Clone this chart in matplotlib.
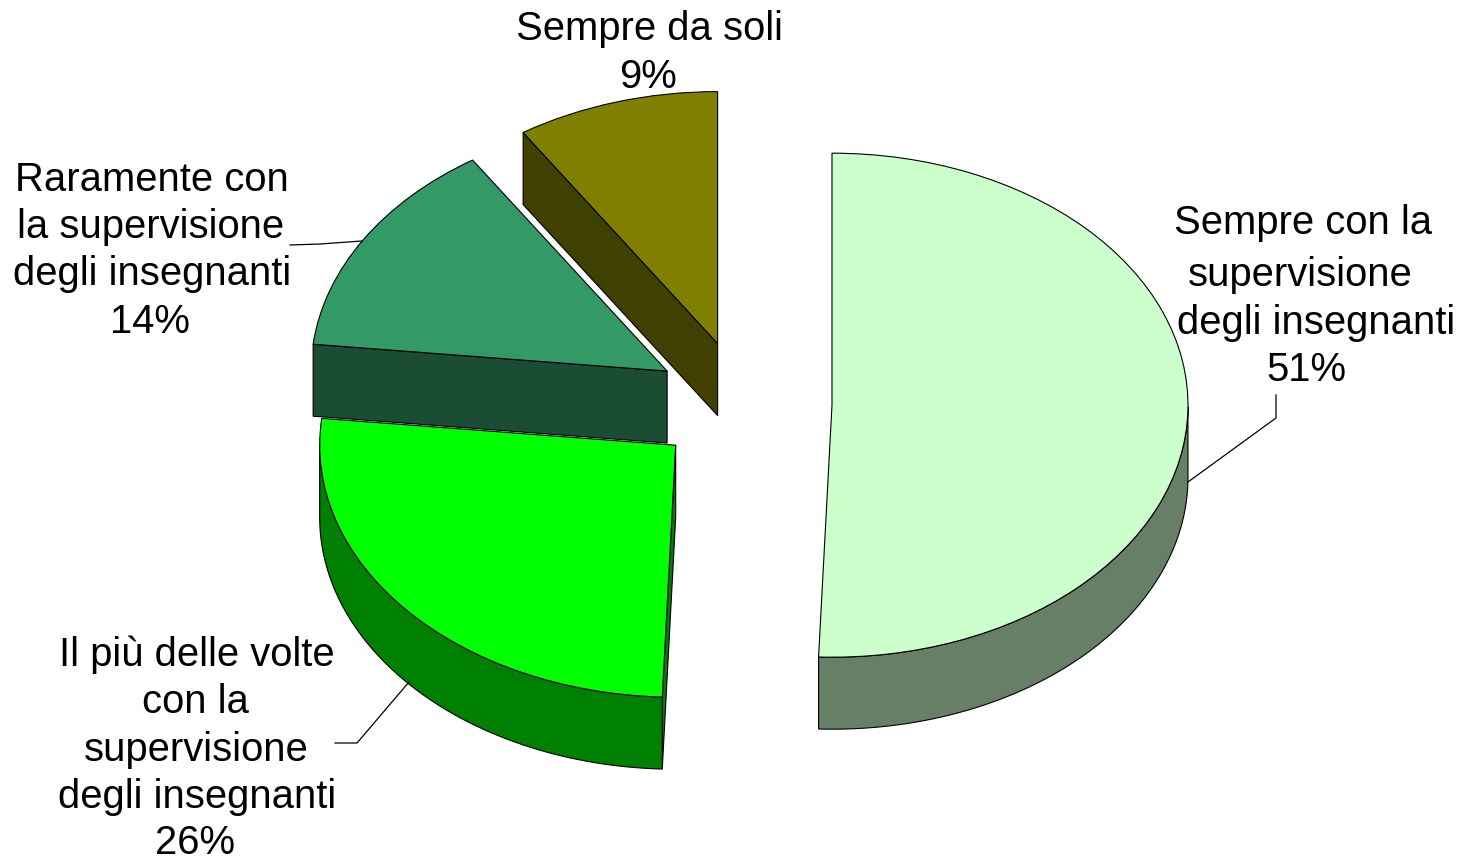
import numpy as np
import matplotlib
matplotlib.use("Agg")
import matplotlib.pyplot as plt
from matplotlib.patches import Wedge, Polygon

plt.rcParams['font.family'] = ['Liberation Sans', 'DejaVu Sans']

# Data
categories = ["Sempre con la\nsupervisione\ndegli insegnanti",
              "Il più delle volte\ncon la\nsupervisione\ndegli insegnanti",
              "Raramente con\nla supervisione\ndegli insegnanti",
              "Sempre da soli"]
values = [50.6, 26.1, 14.1, 9.2]
pct_labels = ["51%", "26%", "14%", "9%"]
top_colors = ["#CCFFCC", "#00FF00", "#339966", "#808000"]
side_colors = ["#667F66", "#008000", "#1A4D33", "#404000"]
draw_order = [3, 2, 0, 1]
label_lines = [
    [(1303, 223), (1300, 275), (1316, 323), (1306, 370)],
    [(197, 655), (195, 702), (196, 750), (197, 797), (195, 843)],
    [(152, 180), (151, 227), (152, 274), (150, 322)],
    [(650, 29), (648, 77)],
]
leaders = [
    [(1188, 482), (1276, 418), (1276, 395)],
    [(409, 682), (357, 743), (335, 743)],
    [(362, 241), (320, 244), (290, 245)],
]

W, H = 1469, 858
RX, RY = 356.0, 252.0
CX, CY = 743.0, 404.0
EXPLODE = 0.25
DEPTH = 72.0 / RY
FS = 28.8

fig = plt.figure(figsize=(W / 100, H / 100), dpi=100, facecolor="white")
ax = fig.add_axes([0, 0, 1, 1])
ax.set_xlim(-CX / RX, (W - CX) / RX)
ax.set_ylim((CY - H) / RY, CY / RY)
ax.axis("off")

fracs = np.array(values) / np.sum(values)
ends = 90 - 360 * np.cumsum(fracs)
starts = np.concatenate([[90], ends[:-1]])
EC = "black"
LW = 0.8

for i in draw_order:
    a1, a2 = starts[i], ends[i]
    mid = np.radians((a1 + a2) / 2)
    cx, cy = EXPLODE * np.cos(mid), EXPLODE * np.sin(mid)
    z = 2 + draw_order.index(i)
    for edge, normal in ((a1, a1 + 90), (a2, a2 - 90)):
        if np.sin(np.radians(normal)) < -1e-6:
            r = np.radians(edge)
            px, py = cx + np.cos(r), cy + np.sin(r)
            ax.add_patch(Polygon([(cx, cy), (px, py), (px, py - DEPTH), (cx, cy - DEPTH)],
                                 closed=True, fc=side_colors[i], ec=EC, lw=LW, zorder=z))
    th = np.radians(np.linspace(a2, a1, 400))
    th = th[np.sin(th) <= 0]
    if th.size > 1:
        xs, ys = cx + np.cos(th), cy + np.sin(th)
        pts = np.column_stack([np.r_[xs, xs[::-1]], np.r_[ys, ys[::-1] - DEPTH]])
        ax.add_patch(Polygon(pts, closed=True, fc=side_colors[i], ec=EC, lw=LW, zorder=z))
    ax.add_patch(Wedge((cx, cy), 1.0, a2, a1, fc=top_colors[i], ec=EC, lw=LW, zorder=z))

# Overlay in pixel space for labels and leader lines
ov = fig.add_axes([0, 0, 1, 1])
ov.set_xlim(0, W)
ov.set_ylim(H, 0)
ov.axis("off")
ov.patch.set_alpha(0)

for line in leaders:
    xs, ys = zip(*line)
    ov.plot(xs, ys, color="black", lw=0.9, solid_joinstyle="round")

for cat, pct, pos in zip(categories, pct_labels, label_lines):
    for txt, (x, y) in zip(cat.split("\n") + [pct], pos):
        ov.text(x, y, txt, ha="center", va="center", fontsize=FS, color="black", clip_on=False)

fig.savefig("out.png", dpi=100, facecolor="white")
